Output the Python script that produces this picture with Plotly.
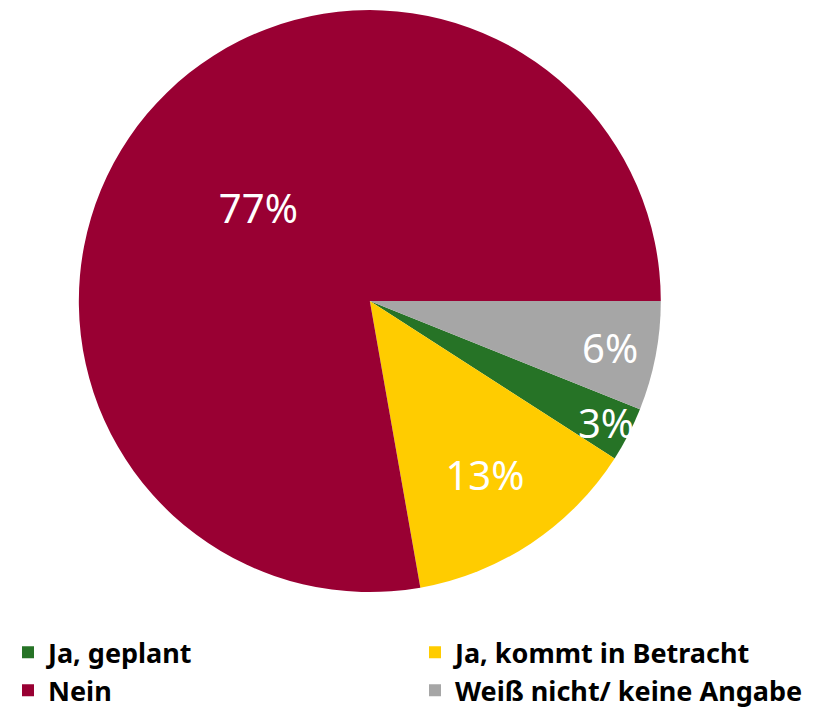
import plotly.graph_objects as go

labels = ["Ja, geplant", "Ja, kommt in Betracht", "Nein", "Weiß nicht/ keine Angabe"]
values = [3, 13, 77, 6]
colors = ["#267326", "#FFCC00", "#990033", "#A6A6A6"]

# first slice starts after the grey one, which begins at 3 o'clock
start = 90 + values[3] / sum(values) * 360

fig = go.Figure(go.Pie(
    labels=labels,
    values=values,
    sort=False,
    direction="clockwise",
    rotation=start,
    marker=dict(colors=colors, line=dict(width=0)),
    texttemplate="%{value}%",
    textposition="inside",
    insidetextorientation="horizontal",
    textfont=dict(family="Noto Sans", size=40, color="white"),
    domain=dict(x=[0.087, 0.802], y=[0.175, 0.997]),
    hoverinfo="label+value",
))

fig.update_layout(
    width=814,
    height=708,
    margin=dict(l=0, r=0, t=0, b=0, autoexpand=False),
    paper_bgcolor="white",
    uniformtext=dict(minsize=40, mode="show"),
    showlegend=True,
    legend=dict(
        orientation="h",
        x=0, xanchor="left",
        y=0.124, yanchor="top",
        entrywidth=362,
        entrywidthmode="pixels",
        font=dict(family="Noto Sans", size=27, color="black", weight="bold"),
        traceorder="normal",
    ),
)

fig.write_html("out.html")
